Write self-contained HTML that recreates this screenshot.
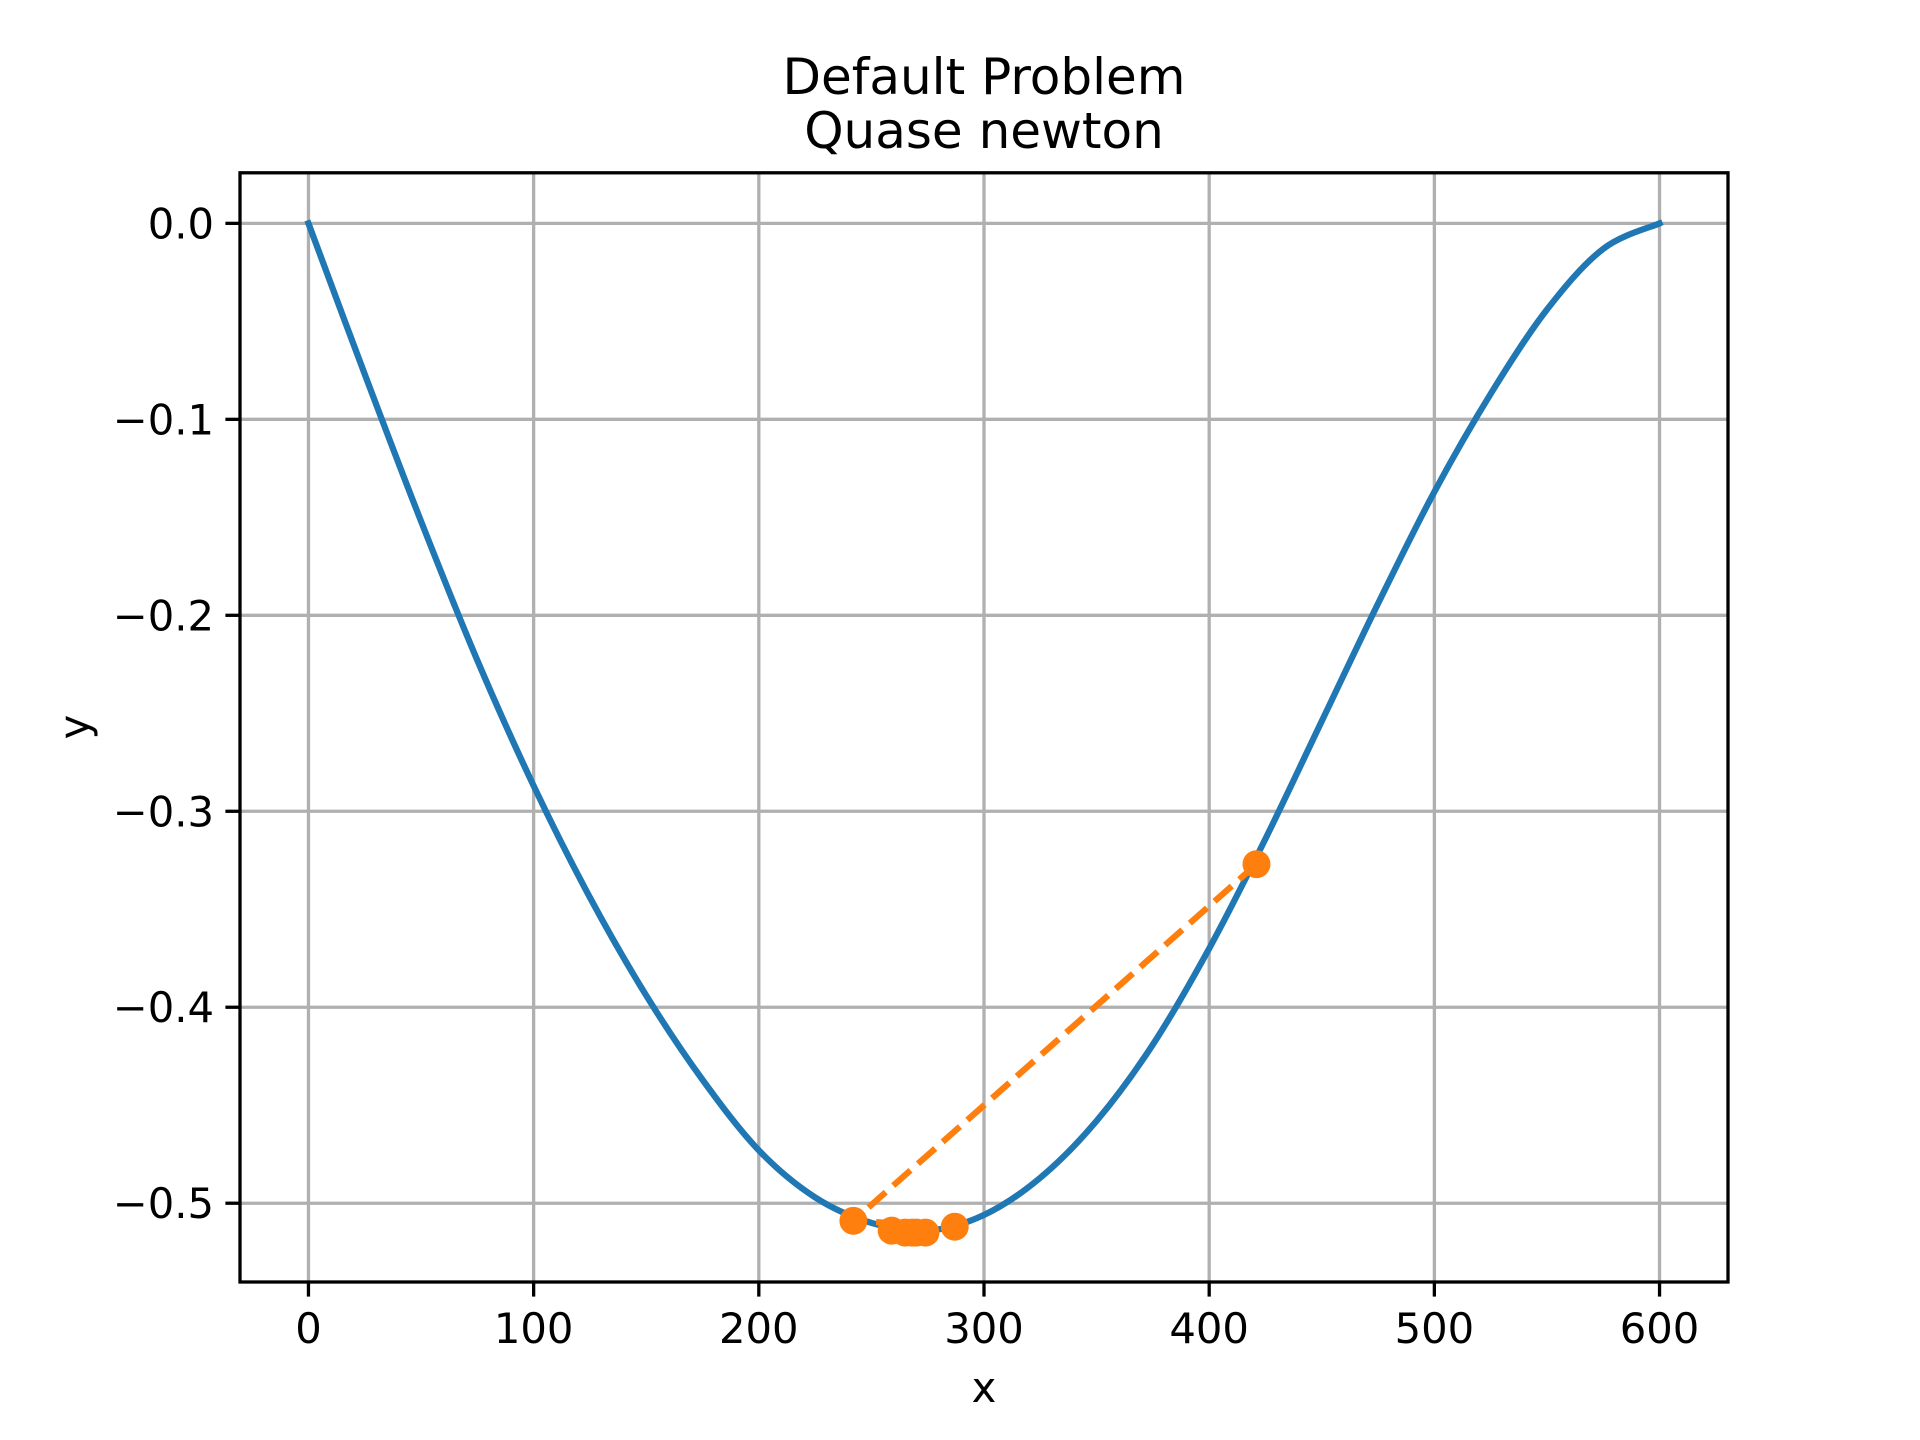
<!DOCTYPE html>
<html><head><meta charset="utf-8"><style>
html,body{margin:0;padding:0;background:#fff;overflow:hidden;}
svg{display:block;font-family:"DejaVu Sans","Liberation Sans",sans-serif;}
</style></head><body>
<svg id="chart" width="1920" height="1440" viewBox="0 0 1920 1440" xmlns="http://www.w3.org/2000/svg">
<rect width="1920" height="1440" fill="#fff"/>
<g id="grid"></g>
<g id="series"></g>
<g id="axes"></g>
<text x="984" y="94" font-size="50" text-anchor="middle">Default Problem</text>
<text x="984" y="148" font-size="50" text-anchor="middle">Quase newton</text>
<text x="984" y="1402" font-size="41.7" text-anchor="middle">x</text>
<text x="0" y="0" font-size="41.7" text-anchor="middle" transform="translate(89,727) rotate(-90)">y</text>
</svg>
<script>
const curveX = [0,25,50,75,100,125,150,175,200,225,250,275,300,325,350,375,400,425,450,475,500,525,550,575,600];
const curveY = [0,-0.077,-0.152,-0.223,-0.287,-0.344,-0.394,-0.437,-0.473,-0.497,-0.510,-0.514,-0.506,-0.487,-0.458,-0.419,-0.370,-0.314,-0.254,-0.194,-0.137,-0.087,-0.044,-0.013,0];
const iterX = [421,242,287,259,274,265,270,268];
const iterY = [-0.327,-0.509,-0.512,-0.514,-0.515,-0.515,-0.515,-0.515];
const xTicks = [0,100,200,300,400,500,600];
const yTicks = [0,-0.1,-0.2,-0.3,-0.4,-0.5];
const yTickLabels = ["0.0","\u22120.1","\u22120.2","\u22120.3","\u22120.4","\u22120.5"];

const L=240,R=1728,T=172.8,B=1282;
const xMin=-30.4,xMax=630.4,yMax=0.0258,yMin=-0.5402;
const sx=v=>L+(v-xMin)/(xMax-xMin)*(R-L);
const sy=v=>T+(yMax-v)/(yMax-yMin)*(B-T);
const NS="http://www.w3.org/2000/svg";
function mk(tag,attrs,parent){const e=document.createElementNS(NS,tag);for(const k in attrs)e.setAttribute(k,attrs[k]);parent.appendChild(e);return e;}
const grid=document.getElementById('grid'),series=document.getElementById('series'),axes=document.getElementById('axes');

xTicks.forEach(t=>{
  const g=mk('line',{x1:sx(t),x2:sx(t),y1:T,y2:B,stroke:'#b0b0b0','stroke-width':3.3},grid);
  
  
  const tk=mk('line',{x1:sx(t),x2:sx(t),y1:B,y2:B+14.6,stroke:'#000','stroke-width':3.3},axes);
  
  
  const lb=mk('text',{x:sx(t),y:B+61,'font-size':41.7,'text-anchor':'middle'},axes);
  
  
  lb.textContent=String(t);
});
yTicks.forEach((t,i)=>{
  const g=mk('line',{x1:L,x2:R,y1:sy(t),y2:sy(t),stroke:'#b0b0b0','stroke-width':3.3},grid);
  
  
  const tk=mk('line',{x1:L-14.6,x2:L,y1:sy(t),y2:sy(t),stroke:'#000','stroke-width':3.3},axes);
  
  
  const lb=mk('text',{x:L-26,y:sy(t)+15,'font-size':41.7,'text-anchor':'end'},axes);
  
  
  lb.textContent=yTickLabels[i];
});
const frame=mk('rect',{x:L,y:T,width:R-L,height:B-T,fill:'none',stroke:'#000','stroke-width':3.3},axes);



const P=curveX.map((x,i)=>[sx(x),sy(curveY[i])]);
let d='M'+P[0][0]+','+P[0][1];
for(let i=0;i<P.length-1;i++){
  const p0=P[Math.max(0,i-1)],p1=P[i],p2=P[i+1],p3=P[Math.min(P.length-1,i+2)];
  const c1=[p1[0]+(p2[0]-p0[0])/6,p1[1]+(p2[1]-p0[1])/6];
  const c2=[p2[0]-(p3[0]-p1[0])/6,p2[1]-(p3[1]-p1[1])/6];
  d+=` C${c1[0]},${c1[1]} ${c2[0]},${c2[1]} ${p2[0]},${p2[1]}`;
}
const curve=mk('path',{d:d,fill:'none',stroke:'#1f77b4','stroke-width':6.25,'stroke-linejoin':'round','stroke-linecap':'square'},series);



const pts=iterX.map((x,i)=>sx(x)+','+sy(iterY[i])).join(' ');
const pl=mk('polyline',{points:pts,fill:'none',stroke:'#ff7f0e','stroke-width':6.25,'stroke-dasharray':'23 10'},series);


iterX.forEach((x,i)=>{
  const c=mk('circle',{cx:sx(x),cy:sy(iterY[i]),r:14,fill:'#ff7f0e'},series);
  
  
});
</script>
</body></html>
